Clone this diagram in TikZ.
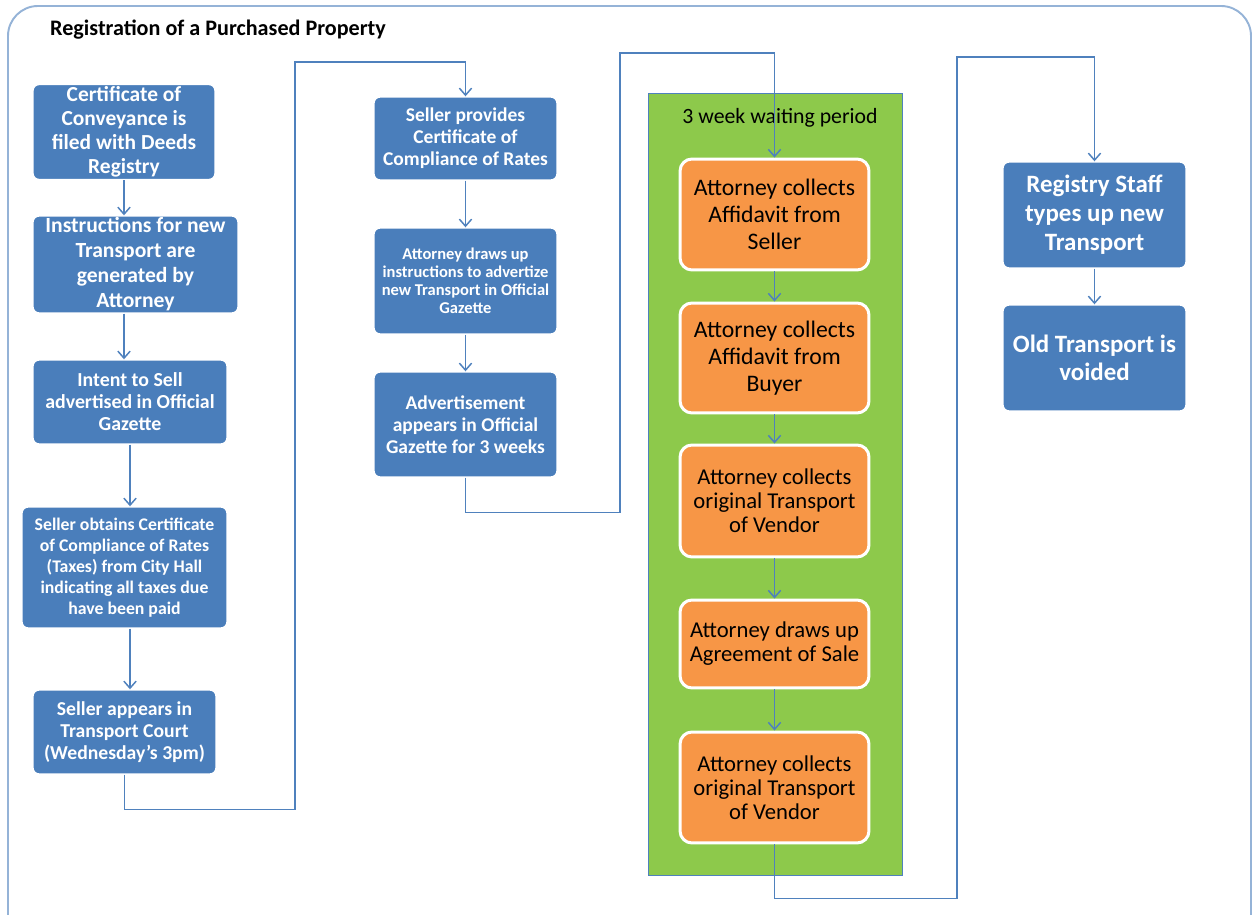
\documentclass[tikz,border=0pt]{standalone}
\usepackage{fontspec}
\setmainfont{Carlito}
\usetikzlibrary{arrows.meta}

\definecolor{boxblue}{HTML}{4A7EBB}
\definecolor{linkblue}{HTML}{4F81BD}
\definecolor{framblue}{HTML}{95B3D7}
\definecolor{waitgreen}{HTML}{8DC94B}
\definecolor{taskorange}{HTML}{F79646}
\newcommand{\boxfont}[2]{\fontsize{#1}{#2}\selectfont}

\begin{document}
\begin{tikzpicture}[x = 0.02cm, y = -0.02cm,
  bluebox/.style = {fill = boxblue, draw = white, line width = 0.8pt, rounded corners = 0.12cm,
    text = white, align = center, inner sep = 1pt, font = \bfseries},
  orangebox/.style = {fill = taskorange, draw = white, line width = 1.7pt, rounded corners = 0.24cm,
    text = black, align = center, inner sep = 1pt, minimum width = 3.78cm},
  link/.style = {draw = linkblue, line width = 0.85pt, -{Straight Barb[length = 4pt, width = 7pt]}}]
\useasboundingbox (0, 0) rectangle (1252, 915);
\clip (0, 0) rectangle (1252, 915);
%\draw[very thin, color = gray](0, 0) grid[step = 50] (1252, 915);
\draw [framblue, line width = 1.1pt, rounded corners = 0.6cm] (8, 6) rectangle (1251, 960);
\node [anchor = west, font = \bfseries\boxfont{12.6}{15}] (title) at (44, 30) {Registration of a Purchased Property};
% first column
\node [bluebox, minimum width = 3.64cm, minimum height = 1.9cm, font = \bfseries\boxfont{12.2}{13.6}] (conv) at (124, 132)
  {Certificate of\\Conveyance is\\filed with Deeds\\Registry};
\node [bluebox, minimum width = 4.1cm, minimum height = 1.9cm, font = \bfseries\boxfont{12.3}{14.2}] (instr) at (135.5, 264.5)
  {Instructions for new\\Transport are\\generated by\\Attorney};
\node [bluebox, minimum width = 3.88cm, minimum height = 1.68cm, font = \bfseries\boxfont{11.3}{12.5}] (intent) at (130, 402)
  {Intent to Sell\\advertised in Official\\Gazette};
\node [bluebox, minimum width = 4.1cm, minimum height = 2.42cm, font = \bfseries\boxfont{10.1}{11.9}] (taxes) at (124.5, 567.5)
  {Seller obtains Certificate\\of Compliance of Rates\\(Taxes) from City Hall\\indicating all taxes due\\have been paid};
\node [bluebox, minimum width = 3.66cm, minimum height = 1.68cm, font = \bfseries\boxfont{11.2}{12.5}] (court) at (124.5, 732)
  {Seller appears in\\Transport Court\\(Wednesday’s 3pm)};
% second column
\node [bluebox, minimum width = 3.66cm, minimum height = 1.66cm, font = \bfseries\boxfont{11.1}{12.5}] (rates) at (465.5, 138.5)
  {Seller provides\\Certificate of\\Compliance of Rates};
\node [bluebox, minimum width = 3.66cm, minimum height = 2.12cm, font = \bfseries\boxfont{9.4}{10.2}] (draft) at (465.5, 281)
  {Attorney draws up\\instructions to advertize\\new Transport in Official\\Gazette};
\node [bluebox, minimum width = 3.66cm, minimum height = 2.1cm, font = \bfseries\boxfont{11.1}{12.5}] (advert) at (465.5, 424.5)
  {Advertisement\\appears in Official\\Gazette for 3 weeks};
% waiting period
\draw [fill = waitgreen, draw = linkblue, line width = 0.5pt] (648, 93) rectangle (902, 875);
\node [font = \boxfont{12.4}{14}] (wait) at (780, 118) {3 week waiting period};
\node [orangebox, minimum height = 2.22cm, font = \boxfont{13.5}{15.3}] (seller) at (774.5, 214.5)
  {Attorney collects\\Affidavit from\\Seller};
\node [orangebox, minimum height = 2.2cm, font = \boxfont{13.5}{15.3}] (buyer) at (774.5, 358)
  {Attorney collects\\Affidavit from\\Buyer};
\node [orangebox, minimum height = 2.24cm, font = \boxfont{12.9}{13.6}] (vendor) at (774.5, 501)
  {Attorney collects\\original Transport\\of Vendor};
\node [orangebox, minimum height = 1.76cm, font = \boxfont{12.9}{13.6}] (sale) at (774.5, 644)
  {Attorney draws up\\Agreement of Sale};
\node [orangebox, minimum height = 2.22cm, font = \boxfont{12.9}{13.6}] (vendorb) at (774.5, 787.5)
  {Attorney collects\\original Transport\\of Vendor};
% last column
\node [bluebox, minimum width = 3.66cm, minimum height = 2.12cm, font = \bfseries\boxfont{14.2}{16.4}] (staff) at (1094.5, 215)
  {Registry Staff\\types up new\\Transport};
\node [bluebox, minimum width = 3.66cm, minimum height = 2.12cm, font = \bfseries\boxfont{14.2}{16}] (void) at (1094.5, 358)
  {Old Transport is\\voided};
% connectors
\draw [link] (conv.south) -- (conv.south |- instr.north);
\draw [link] (conv.south |- instr.south) -- (conv.south |- intent.north);
\draw [link] (intent.south) -- (intent.south |- taxes.north);
\draw [link] (intent.south |- taxes.south) -- (intent.south |- court.north);
\draw [link] (court.south) -- ++(0, 35) -| (295, 62) -| (rates.north);
\draw [link] (rates) -- (draft);
\draw [link] (draft) -- (advert);
\draw [link] (advert.south) -- ++(0, 35) -| (620, 53) -| (seller.north);
\draw [link] (seller) -- (buyer);
\draw [link] (buyer) -- (vendor);
\draw [link] (vendor) -- (sale);
\draw [link] (sale) -- (vendorb);
\draw [link] (vendorb.south) -- ++(0, 54) -| (957, 57) -| (staff.north);
\draw [link] (staff) -- (void);
\end{tikzpicture}
\end{document}
